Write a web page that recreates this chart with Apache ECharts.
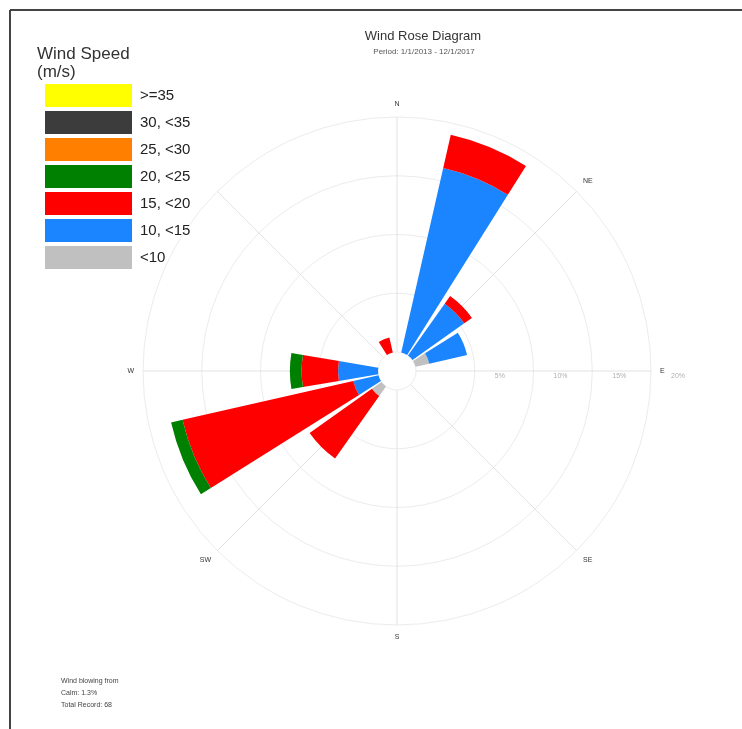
<!DOCTYPE html>
<html>
<head>
<meta charset="utf-8">
<script src="https://cdn.jsdelivr.net/npm/echarts@6/dist/echarts.min.js"></script>
<style>
html,body{margin:0;padding:0;background:#fff;}
#chart{width:742px;height:729px;}
</style>
</head>
<body>
<div id="chart"></div>
<script>
// Directions (clockwise from North)
var directions = ['N','NNE','NE','ENE','E','ESE','SE','SSE','S','SSW','SW','WSW','W','WNW','NW','NNW'];
var shownDirLabels = ['N','NE','E','SE','S','SW','W'];
// Speed classes (inner to outer)
var speedClasses = ['<10','10, <15','15, <20','20, <25','25, <30','30, <35','>=35'];
var speedColors = ['#c0c0c0','#1a85ff','#ff0000','#008000','#ff8000','#3c3c3c','#ffff00'];
// Frequencies (%) per direction
var sLt10   = [0, 0,    0,   1.2, 0,0,0,0,0,0, 1.0, 0,    0,   0,0,0];
var s10to15 = [0, 16.1, 5.4, 3.3, 0,0,0,0,0,0, 0,   2.2,  3.4, 0,0,0];
var s15to20 = [0, 2.9,  0.8, 0,   0,0,0,0,0,0, 6.5, 14.9, 3.1, 0,0,1.3];
var s20to25 = [0, 0,    0,   0,   0,0,0,0,0,0, 0,   1.0,  1.0, 0,0,0];
var s25to30 = [0,0,0,0,0,0,0,0,0,0,0,0,0,0,0,0];
var s30to35 = [0,0,0,0,0,0,0,0,0,0,0,0,0,0,0,0];
var sGe35   = [0,0,0,0,0,0,0,0,0,0,0,0,0,0,0,0];
var seriesValues = [sLt10, s10to15, s15to20, s20to25, s25to30, s30to35, sGe35];
// Radial scale (%)
var radiusMax = 20;
var radiusStep = 5;

var chart = echarts.init(document.getElementById('chart'), null, {renderer:'canvas'});
var center = [397, 371];
var series = speedClasses.map(function(name, i){
  return {
    name: name,
    type: 'bar',
    coordinateSystem: 'polar',
    polarIndex: 0,
    stack: 'wind',
    barCategoryGap: '14%',
    silent: true,
    itemStyle: {color: speedColors[i]},
    data: seriesValues[i]
  };
});

chart.setOption({
  animation: false,
  backgroundColor: '#ffffff',
  textStyle: {fontFamily: 'Liberation Sans, Arial, sans-serif'},
  title: [
    {text: 'Wind Rose Diagram', left: 418, top: 25, textAlign: 'center',
     textStyle: {fontSize: 13, fontWeight: 'normal', color: '#333', fontFamily: 'Liberation Sans'}},
    {text: 'Period: 1/1/2013 - 12/1/2017', left: 419, top: 43, textAlign: 'center',
     textStyle: {fontSize: 8, fontWeight: 'normal', color: '#555', fontFamily: 'Liberation Sans'}},
    {text: 'Wind Speed\n(m/s)', left: 32, top: 40,
     textStyle: {fontSize: 17, fontWeight: 'normal', color: '#333', lineHeight: 18, fontFamily: 'Liberation Sans'}},
    {text: 'Wind blowing from\nCalm: 1.3%\nTotal Record: 68', left: 56, top: 670,
     textStyle: {fontSize: 7, fontWeight: 'normal', color: '#444', lineHeight: 12, fontFamily: 'Liberation Sans'}}
  ],
  legend: {
    orient: 'vertical',
    left: 40,
    top: 79,
    itemWidth: 87,
    itemHeight: 23,
    itemGap: 4,
    icon: 'rect',
    selectedMode: false,
    data: speedClasses.slice().reverse(),
    textStyle: {fontSize: 15, color: '#222', padding: [0,0,0,3], fontFamily: 'Liberation Sans'}
  },
  polar: [
    {center: center, radius: [19, 254]},
    {center: center, radius: [19, 254]}
  ],
  angleAxis: [
    {
      polarIndex: 0,
      type: 'category',
      data: directions,
      startAngle: 90,
      clockwise: true,
      boundaryGap: false,
      axisLine: {show: false},
      axisTick: {show: false},
      splitLine: {show: false},
      axisLabel: {
        interval: 0,
        margin: 9,
        fontSize: 7,
        color: '#333',
        formatter: function(v){ return shownDirLabels.indexOf(v) >= 0 ? v : ''; }
      }
    },
    {
      polarIndex: 1,
      type: 'value',
      min: 0, max: 360, interval: 45,
      startAngle: 0,
      axisLine: {show: false},
      axisTick: {show: false},
      axisLabel: {show: false},
      splitLine: {show: true, lineStyle: {color: '#e2e2e2', width: 1}}
    }
  ],
  radiusAxis: [
    {polarIndex: 0, type: 'value', min: 0, max: radiusMax, show: false},
    {
      polarIndex: 1,
      type: 'value',
      min: 0, max: radiusMax, interval: radiusStep,
      axisLine: {show: false},
      axisTick: {show: false},
      splitLine: {show: true, lineStyle: {color: '#ececec', width: 1}},
      axisLabel: {
        showMinLabel: false,
        formatter: '{value}%',
        fontSize: 7,
        color: '#b0b0b0',
        margin: 2,
        align: 'left',
        verticalAlign: 'top',
        padding: [4, 0, 0, 20]
      }
    }
  ],
  graphic: [
    {type: 'line', shape: {x1: 10, y1: 10, x2: 742, y2: 10}, style: {stroke: '#444', lineWidth: 2}, silent: true},
    {type: 'line', shape: {x1: 10, y1: 10, x2: 10, y2: 729}, style: {stroke: '#444', lineWidth: 2}, silent: true}
  ],
  series: series
});
</script>
</body>
</html>
